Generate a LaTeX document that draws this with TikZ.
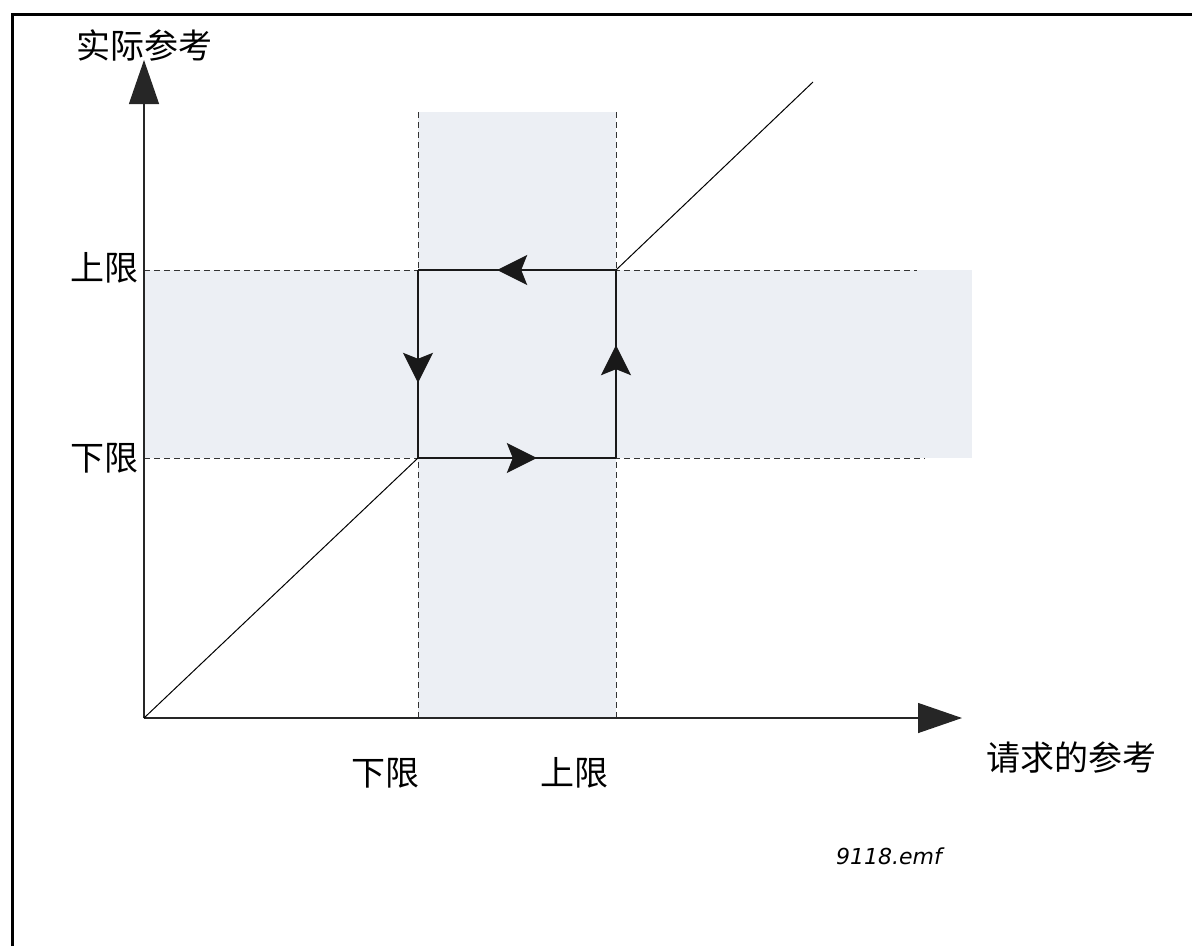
\documentclass[tikz,border=0pt]{standalone}
\usepackage{fontspec}
\newfontfamily\cjk{Noto Sans CJK SC}
\newfontfamily\emffont{DejaVu Sans}
\usetikzlibrary{arrows.meta,decorations.markings}
\definecolor{bandgray}{RGB}{236,239,244}
\tikzset{
  lbl/.style={font=\cjk\fontsize{34}{40}\selectfont, inner sep=0pt},
  axis/.style={line width=1.3pt, draw=black!85, -{Triangle[length=44pt,width=30pt]}},
  guide/.style={line width=1pt, dash pattern=on 6pt off 4pt, draw=black!80},
  curve/.style={line width=1pt},
  flow/.style={line width=1.3pt, draw=black!90, postaction={decorate}, decoration={markings,
     mark=at position 0.6 with {\arrow{Stealth[length=30pt,width=30pt,inset=6pt]}}}}
}
\begin{document}
\begin{tikzpicture}[x=1pt,y=-1pt]
\useasboundingbox (0,0) rectangle (1192,946);
% frame
\draw[line width=3pt] (12,946) -- (12,14) -- (1192,14);
% bands
\fill[bandgray] (418,112) rectangle (616,718);
\fill[bandgray] (144,270) rectangle (972,458);
% coordinates
\coordinate (O) at (144,718);
\coordinate (Ytip) at (144,60);
\coordinate (Xtip) at (962,718);
\coordinate (A) at (418,458);
\coordinate (B) at (616,458);
\coordinate (C) at (616,270);
\coordinate (D) at (418,270);
\coordinate (E) at (813,82);
\coordinate (V1t) at (418,112);
\coordinate (V1b) at (418,718);
\coordinate (V2t) at (616,112);
\coordinate (V2b) at (616,718);
\coordinate (H1l) at (144,270);
\coordinate (H1r) at (917,270);
\coordinate (H2l) at (144,458);
\coordinate (H2r) at (925,458);
% dashed guides
\draw[guide] (V1t) -- (V1b);
\draw[guide] (V2t) -- (V2b);
\draw[guide] (H1l) -- (H1r);
\draw[guide] (H2l) -- (H2r);
% axes
\draw[axis] (O) -- (Ytip);
\draw[axis] (O) -- (Xtip);
% characteristic
\draw[curve] (O) -- (A);
\draw[curve] (C) -- (E);
\draw[flow] (A) -- (B);
\draw[flow] (B) -- (C);
\draw[flow] (C) -- (D);
\draw[flow] (D) -- (A);
% labels
\node[lbl] (ylab) at (144,45) {实际参考};
\node[lbl, anchor=east] (upL) at (139,268) {上限};
\node[lbl, anchor=east] (loL) at (139,458) {下限};
\node[lbl] (loB) at (385,773) {下限};
\node[lbl] (upB) at (574,773) {上限};
\node[lbl] (xlab) at (1071,758) {请求的参考};
\node[font=\emffont\itshape\fontsize{22}{26}\selectfont, inner sep=0pt] (emf) at (889,856) {9118.emf};
\end{tikzpicture}
\end{document}
